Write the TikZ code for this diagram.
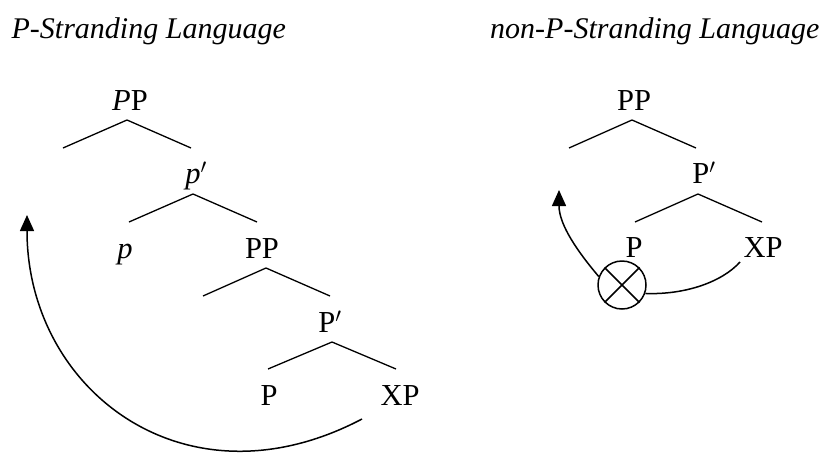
\documentclass[tikz,border=0pt]{standalone}
\usepackage{fontspec}
\setmainfont{Liberation Serif}
\usetikzlibrary{arrows.meta}
\begin{document}
\begin{tikzpicture}[x=1pt,y=-1pt, line width=1.3pt,
  lbl/.style={anchor=base, inner sep=0pt, font=\fontsize{30.5}{36}\selectfont},
  ttl/.style={inner sep=0pt, font=\fontsize{30}{36}\selectfont\itshape},
  br/.style={line width=1.3pt},
  mv/.style={line width=1.5pt, -{Triangle[length=16pt,width=14pt]}},
  xcirc/.style={circle, draw, line width=1.5pt, minimum size=48pt, inner sep=0pt}]
\useasboundingbox (0,0) rectangle (824,453);
% titles
\node[ttl, anchor=base west] (t1) at (11,38) {P-Stranding Language};
\node[ttl, anchor=base east] (t2) at (820,38) {non-P-Stranding Language};
% ---------------- left tree
\node[lbl] (LPP) at (130,110) {\textit{P}P};
\coordinate (LA1) at (127,120); \coordinate (LL1) at (63,148); \coordinate (LR1) at (191,148);
\draw[br] (LL1) -- (LA1) -- (LR1);
\node[lbl] (Lpb) at (196,183) {\textit{p}$'$};
\coordinate (LA2) at (193,194); \coordinate (LL2) at (129,222); \coordinate (LR2) at (257,222);
\draw[br] (LL2) -- (LA2) -- (LR2);
\node[lbl] (Lp) at (125,258) {\textit{p}};
\node[lbl] (LPP2) at (262,258) {PP};
\coordinate (LA3) at (266,268); \coordinate (LL3) at (203,296); \coordinate (LR3) at (330,296);
\draw[br] (LL3) -- (LA3) -- (LR3);
\node[lbl] (LPb) at (330,332) {P$'$};
\coordinate (LA4) at (332,342); \coordinate (LL4) at (268,369); \coordinate (LR4) at (396,369);
\draw[br] (LL4) -- (LA4) -- (LR4);
\node[lbl] (LP) at (269,405) {P};
\node[lbl] (LXP) at (400,405) {XP};
\coordinate (Lstart) at (362,419);
\coordinate (Ltip) at (27,215);
\draw[mv] (Lstart) .. controls (185,512) and (27,390) .. (Ltip);
% ---------------- right tree
\node[lbl] (RPP) at (634,110) {PP};
\coordinate (RA1) at (632,120); \coordinate (RL1) at (569,148); \coordinate (RR1) at (696,148);
\draw[br] (RL1) -- (RA1) -- (RR1);
\node[lbl] (RPb) at (704,183) {P$'$};
\coordinate (RA2) at (698,194); \coordinate (RL2) at (635,222); \coordinate (RR2) at (762,222);
\draw[br] (RL2) -- (RA2) -- (RR2);
\node[lbl] (RP) at (634,257) {P};
\node[lbl] (RXP) at (763,257) {XP};
\node[xcirc] (X) at (622,285) {};
\draw[line width=1.5pt] (X.north west) -- (X.south east) (X.north east) -- (X.south west);
\coordinate (Rstart) at (740,262);
\draw[line width=1.5pt] (Rstart) .. controls (722,282) and (685,295) .. (X.-20);
\coordinate (Rtip) at (559,190);
\draw[mv] (X.160) .. controls (578,252) and (559,225) .. (Rtip);
\end{tikzpicture}
\end{document}
